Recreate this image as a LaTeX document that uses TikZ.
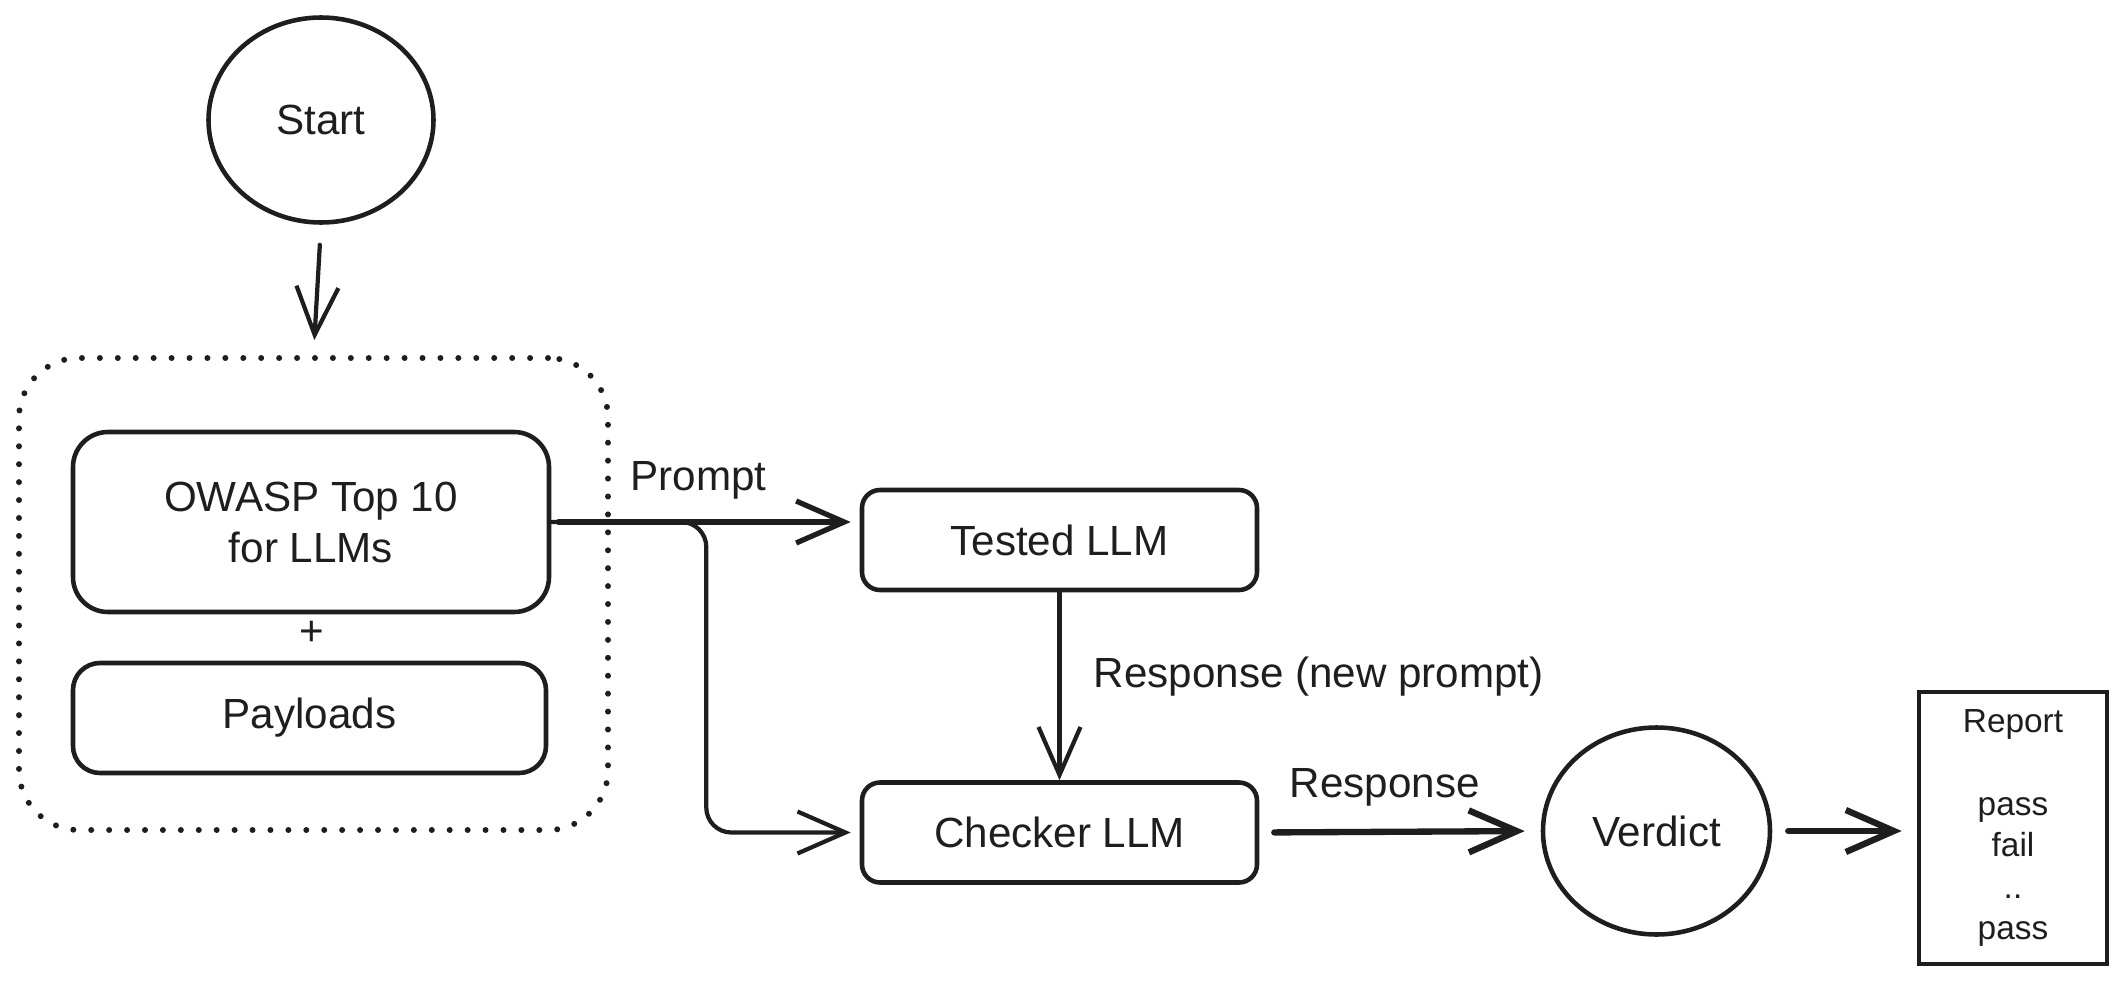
\documentclass[tikz,border=0pt]{standalone}
\usepackage{fontspec}
\setmainfont{Liberation Sans}
\usetikzlibrary{arrows.meta,shapes.geometric,positioning}
\definecolor{pen}{HTML}{1E1E1E}

\begin{document}
\begin{tikzpicture}
		[ink/.style={draw=pen,line width=1.3pt,text=pen,font=\fontsize{12}{14.5}\selectfont},
		blob/.style={ink,ellipse,minimum width=2.25cm,minimum height=2.05cm,inner sep=0pt},
		llmbox/.style={ink,rectangle,rounded corners=0.18cm,minimum width=3.95cm,minimum height=1cm},
		flow/.style={draw=pen,line width=1.2pt,line cap=round,-{Straight Barb[length=4.8mm,width=4.2mm]}},
		tag/.style={inner sep=0pt,text=pen,font=\fontsize{12}{14.5}\selectfont}]
		\useasboundingbox (0,0) rectangle (21.26,-9.81);
		% nodes
		\node[blob] (start) at (3.21,-1.20) {Start};
		\node[draw=pen,line width=1.7pt,line cap=round,dash pattern=on 0pt off 5.1pt,
			rounded corners=0.6cm,minimum width=5.89cm,minimum height=4.72cm] (group) at (3.135,-5.94) {};
		\node[ink,rounded corners=0.35cm,minimum width=4.76cm,minimum height=1.8cm,align=center]
			(owasp) at (3.11,-5.22) {OWASP Top 10\\for LLMs};
		\node[tag] (plus) at (3.12,-6.33) {+};
		\node[ink,rounded corners=0.27cm,minimum width=4.73cm,minimum height=1.1cm]
			(payloads) at (3.095,-7.18) {Payloads};
		\node[llmbox] (tested) at (10.595,-5.40) {Tested LLM};
		\node[llmbox] (checker) at (10.595,-8.325) {Checker LLM};
		\node[blob,minimum width=2.27cm,minimum height=2.07cm] (verdict) at (16.565,-8.31) {Verdict};
		\node[ink,minimum width=1.88cm,minimum height=2.72cm,align=center,
			font=\fontsize{9.5}{11.8}\selectfont] (report) at (20.13,-8.28)
			{Report\\[11.8pt]pass\\fail\\..\\pass};
		% labels
		\node[tag,anchor=base west] (prompt) at (6.30,-4.90) {Prompt};
		\node[tag,anchor=base west] (newprompt) at (10.93,-6.87) {Response (new prompt)};
		\node[tag,anchor=base west] (response) at (12.89,-7.97) {Response};
		% connectors
		\draw[flow,shorten <=0.2cm,shorten >=0.15cm] (start.south) -- (group.north);
		\draw[flow,line width=1.5pt,shorten <=0.07cm,shorten >=0.09cm] (owasp.east) -- (owasp.east -| tested.west);
		\draw[flow,rounded corners=0.25cm,shorten >=0.09cm] (owasp.east) -- ++(1.55,0) |- (checker.west);
		\draw[flow] (tested.south) -- (checker.north);
		\draw[flow,line width=1.8pt,shorten <=0.15cm,shorten >=0.16cm] (checker.east) -- (verdict.west);
		\draw[flow,line width=1.8pt,shorten <=0.16cm,shorten >=0.15cm] (verdict.east) -- (verdict.east -| report.west);
	\end{tikzpicture}
\end{document}
